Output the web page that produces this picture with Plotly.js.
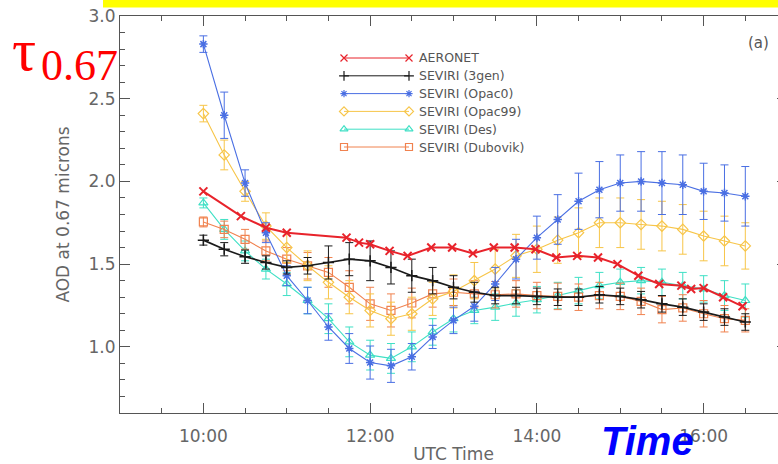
<!DOCTYPE html>
<html>
<head>
<meta charset="utf-8">
<script src="https://cdn.plot.ly/plotly-3.0.1.min.js"></script>
<style>
html,body{margin:0;padding:0;overflow:hidden;background:#fff;width:778px;height:464px;}
#chart{width:800px;height:464px;}
</style>
</head>
<body>
<div id="chart"></div>
<script>
// ---- data ----
const seviriTimes = ["10:00","10:15","10:30","10:45","11:00","11:15","11:30","11:45","12:00","12:15","12:30","12:45","13:00","13:15","13:30","13:45","14:00","14:15","14:30","14:45","15:00","15:15","15:30","15:45","16:00","16:15","16:30"];

const aeronetTimes = ["10:00","10:27","10:45","11:00","11:43","11:52","12:00","12:14","12:27","12:44","12:59","13:14","13:29","13:44","13:59","14:14","14:29","14:44","14:58","15:13","15:28","15:44","15:51","16:00","16:14","16:28"];
const aeronet = [1.94,1.79,1.72,1.69,1.66,1.63,1.62,1.58,1.55,1.60,1.60,1.565,1.60,1.60,1.59,1.54,1.55,1.54,1.50,1.43,1.38,1.37,1.35,1.355,1.30,1.245];

const gen3 = [1.645,1.59,1.545,1.51,1.48,1.49,1.51,1.53,1.52,1.48,1.43,1.40,1.36,1.33,1.31,1.31,1.305,1.30,1.30,1.315,1.305,1.285,1.26,1.24,1.21,1.18,1.15];
const gen3Err = [0.03,0.04,0.04,0.04,0.04,0.05,0.10,0.10,0.12,0.10,0.10,0.08,0.07,0.06,0.05,0.05,0.05,0.05,0.05,0.05,0.05,0.05,0.05,0.05,0.05,0.05,0.05];

const opac0 = [2.83,2.40,1.99,1.69,1.43,1.28,1.12,0.99,0.905,0.885,0.94,1.06,1.16,1.245,1.38,1.53,1.66,1.77,1.88,1.95,1.99,2.00,1.99,1.98,1.94,1.93,1.91];
const opac0Err = [0.05,0.14,0.08,0.06,0.06,0.08,0.08,0.09,0.10,0.10,0.08,0.07,0.08,0.09,0.10,0.12,0.13,0.15,0.17,0.17,0.17,0.18,0.19,0.18,0.17,0.17,0.18];

const opac99 = [2.41,2.16,1.94,1.73,1.60,1.49,1.39,1.30,1.22,1.17,1.20,1.29,1.335,1.40,1.47,1.55,1.59,1.645,1.69,1.75,1.75,1.74,1.73,1.71,1.67,1.64,1.61];
const opac99Err = [0.05,0.09,0.06,0.08,0.09,0.09,0.10,0.10,0.10,0.10,0.10,0.10,0.10,0.11,0.12,0.13,0.14,0.14,0.15,0.15,0.15,0.15,0.15,0.15,0.15,0.15,0.14];

const des = [1.87,1.71,1.58,1.47,1.38,1.28,1.17,1.03,0.95,0.93,1.00,1.09,1.17,1.22,1.24,1.265,1.285,1.31,1.34,1.37,1.39,1.40,1.39,1.37,1.35,1.31,1.28];
const desErr = [0.03,0.06,0.06,0.06,0.07,0.08,0.09,0.09,0.09,0.09,0.09,0.08,0.08,0.08,0.08,0.08,0.08,0.08,0.08,0.08,0.08,0.08,0.08,0.08,0.08,0.09,0.10];

const dubovik = [1.755,1.71,1.65,1.58,1.53,1.49,1.45,1.36,1.26,1.22,1.265,1.32,1.33,1.32,1.315,1.32,1.31,1.305,1.30,1.31,1.305,1.275,1.225,1.235,1.20,1.17,1.16];
const dubovikErr = [0.03,0.05,0.06,0.06,0.07,0.08,0.09,0.10,0.10,0.10,0.09,0.08,0.08,0.08,0.08,0.08,0.08,0.08,0.08,0.08,0.08,0.08,0.08,0.08,0.08,0.08,0.07];

const seriesNames = ["AERONET","SEVIRI (3gen)","SEVIRI (Opac0)","SEVIRI (Opac99)","SEVIRI (Des)","SEVIRI (Dubovik)"];
const xTickVals = ["10:00","12:00","14:00","16:00"];
const xTickLabels = ["10:00","12:00","14:00","16:00"];

// ---- helpers ----
const hours = s => { const p = s.split(':'); return +p[0] + (+p[1])/60; };
const tS = seviriTimes.map(hours);
const tA = aeronetTimes.map(hours);

// styles
const styles = [
  {color:'#e8232b', width:2,   symbol:'x-thin-open',        size:8, mlw:2},
  {color:'#1a1a1a', width:1.7, symbol:'cross-thin-open',    size:8, mlw:1.5},
  {color:'#4a6fe3', width:1.1, symbol:'asterisk-open',      size:7, mlw:1.5},
  {color:'#f7c548', width:1.1, symbol:'diamond-open',       size:8, mlw:1.2},
  {color:'#3fe0c5', width:1.1, symbol:'triangle-up-open',   size:8, mlw:1.2},
  {color:'#f0824f', width:1.1, symbol:'square-open',        size:8, mlw:1.2}
];

function seviri(i, y, err){
  const s = styles[i];
  return {
    x: tS, y: y, type:'scatter', mode:'lines+markers', name: seriesNames[i],
    line:{color:s.color, width:s.width},
    marker:{symbol:s.symbol, size:s.size, color:s.color, line:{color:s.color, width:s.mlw}},
    error_y:{type:'data', array:err, visible:true, color:s.color, thickness:1, width:4},
    showlegend:false, hoverinfo:'skip'
  };
}

const traces = [
  seviri(4, des, desErr),
  seviri(5, dubovik, dubovikErr),
  seviri(3, opac99, opac99Err),
  seviri(2, opac0, opac0Err),
  seviri(1, gen3, gen3Err),
  {
    x: tA, y: aeronet, type:'scatter', mode:'lines+markers', name: seriesNames[0],
    line:{color:styles[0].color, width:styles[0].width},
    marker:{symbol:styles[0].symbol, size:styles[0].size, color:styles[0].color, line:{color:styles[0].color, width:styles[0].mlw}},
    showlegend:false, hoverinfo:'skip'
  }
];

// ---- plot geometry (pixels) ----
const W = 800, H = 464;
const M = {l:120, r:13, t:16, b:51};
const PW = W - M.l - M.r, PH = H - M.t - M.b;
const px = x => (x - M.l) / PW;          // pixel -> paper x
const py = y => (H - M.b - y) / PH;       // pixel -> paper y

// custom legend (line with markers at both ends), drawn on overlay axes
const legX0 = 344, legX1 = 409, legY0 = 58, legDY = 17.8, legTextX = 417;
const legendTraces = seriesNames.map((n, i) => {
  const s = styles[i];
  const yy = py(legY0 + i*legDY);
  return {
    x:[px(legX0), px(legX1)], y:[yy, yy], xaxis:'x2', yaxis:'y2',
    type:'scatter', mode:'lines+markers', showlegend:false, hoverinfo:'skip',
    line:{color:s.color, width: 1},
    marker:{symbol:s.symbol, size:s.size-1, color:s.color, line:{color:s.color, width:1.2}}
  };
});
const legendAnn = seriesNames.map((n, i) => ({
  xref:'paper', yref:'paper', x:px(legTextX), y:py(legY0 + i*legDY),
  xanchor:'left', yanchor:'middle', text:n, showarrow:false,
  font:{family:'DejaVu Sans', size:12.5, color:'#555'}
}));

const axisCommon = {
  showline:true, linecolor:'#555', linewidth:1, mirror:'ticks',
  ticks:'inside', ticklen:10, tickwidth:1, tickcolor:'#555',
  showgrid:false, zeroline:false, automargin:false,
  tickfont:{family:'DejaVu Sans', size:17, color:'#666'}
};

const layout = {
  width:W, height:H, margin:M,
  paper_bgcolor:'#fff', plot_bgcolor:'#fff',
  font:{family:'DejaVu Sans', color:'#666', size:17},
  showlegend:false,
  xaxis: Object.assign({}, axisCommon, {
    range:[9,17], tickmode:'array', tickvals:xTickVals.map(hours), ticktext:xTickLabels,
    minor:{tickmode:'linear', tick0:9, dtick:0.5, ticks:'inside', ticklen:5, tickcolor:'#555'},
    ticklabelstandoff:8,
    title:{text:'UTC Time', font:{family:'DejaVu Sans', size:17, color:'#666'}, standoff:4}
  }),
  yaxis: Object.assign({}, axisCommon, {
    range:[0.6,3.0], tickmode:'linear', tick0:1.0, dtick:0.5, tickformat:'.1f',
    minor:{tickmode:'linear', tick0:0.6, dtick:0.1, ticks:'inside', ticklen:5, tickcolor:'#555'},
    title:{text:'AOD at 0.67 microns', font:{family:'DejaVu Sans', size:17, color:'#666'}, standoff:14}
  }),
  xaxis2:{overlaying:'x', range:[0,1], visible:false, fixedrange:true},
  yaxis2:{overlaying:'y', range:[0,1], visible:false, fixedrange:true},
  shapes:[
    {type:'rect', xref:'paper', yref:'paper', x0:px(103), x1:px(800), y0:py(7.5), y1:py(-2),
     fillcolor:'#ffff00', line:{width:0}, layer:'above'}
  ],
  annotations: legendAnn.concat([
    {xref:'paper', yref:'paper', x:px(758), y:py(43), xanchor:'center', yanchor:'middle',
     text:'(a)', showarrow:false, font:{family:'DejaVu Sans', size:15, color:'#555'}},
    {xref:'paper', yref:'paper', x:px(10), y:py(15), xanchor:'left', yanchor:'top',
     text:'τ', showarrow:false, font:{family:'Liberation Serif', size:60, color:'#ff0000'}},
    {xref:'paper', yref:'paper', x:px(39), y:py(39), xanchor:'left', yanchor:'top',
     text:'0.67', showarrow:false, font:{family:'Liberation Serif', size:44, color:'#ff0000'}},
    {xref:'paper', yref:'paper', x:px(600), y:py(464), xanchor:'left', yanchor:'bottom',
     text:'<b><i>Time</i></b>', showarrow:false, borderpad:0,
     font:{family:'Liberation Sans', size:40, color:'#0000ff'}}
  ])
};

Plotly.newPlot('chart', traces.concat(legendTraces), layout, {displayModeBar:false, staticPlot:true});
</script>
</body>
</html>
